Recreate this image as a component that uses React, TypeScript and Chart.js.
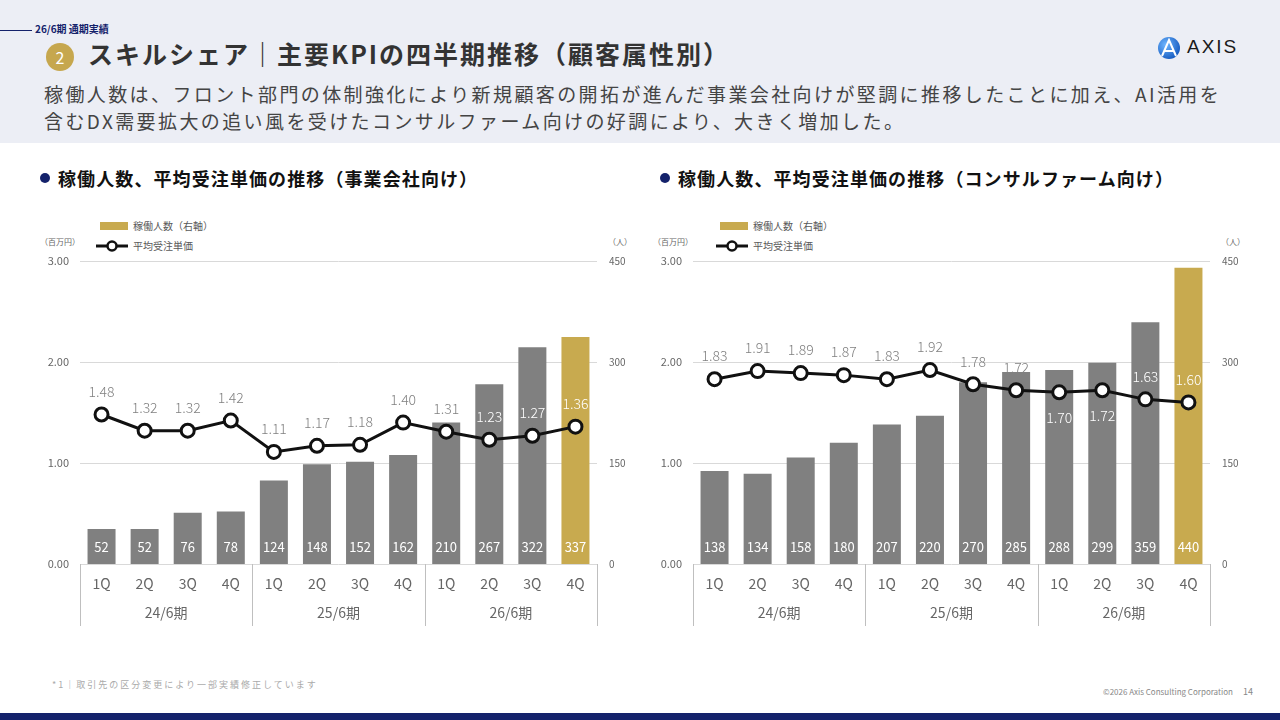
import Chart from "chart.js/auto";
import { useEffect, useRef } from "react";

const FONT = "'Noto Sans CJK JP', 'Noto Sans', sans-serif";
const GOLD = "#c8aa4f";
const GRAY = "#808080";
const NAVY = "#14226b";

// data
const quarters = ["1Q", "2Q", "3Q", "4Q", "1Q", "2Q", "3Q", "4Q", "1Q", "2Q", "3Q", "4Q"];
const fiscalYears = ["24/6期", "25/6期", "26/6期"];
const corpHeadcount = [52, 52, 76, 78, 124, 148, 152, 162, 210, 267, 322, 337];
const corpPrice = [1.48, 1.32, 1.32, 1.42, 1.11, 1.17, 1.18, 1.4, 1.31, 1.23, 1.27, 1.36];
const consultHeadcount = [138, 134, 158, 180, 207, 220, 270, 285, 288, 299, 359, 440];
const consultPrice = [1.83, 1.91, 1.89, 1.87, 1.83, 1.92, 1.78, 1.72, 1.7, 1.72, 1.63, 1.6];
const priceAxis = { min: 0, max: 3, step: 1 };
const headcountAxis = { min: 0, max: 450, step: 150 };

Chart.defaults.font.family = FONT;

const groupAxisPlugin = {
  id: "groupAxis",
  afterDraw(chart: any) {
    const { ctx, chartArea, scales } = chart;
    const xs = scales.x;
    const per = quarters.length / fiscalYears.length;
    const top = chartArea.bottom;
    const bottom = chartArea.bottom + 62;
    const edges: number[] = [chartArea.left];
    for (let g = 1; g < fiscalYears.length; g++) {
      edges.push((xs.getPixelForTick(g * per - 1) + xs.getPixelForTick(g * per)) / 2);
    }
    edges.push(chartArea.right);
    ctx.save();
    ctx.strokeStyle = "#bfbfbf";
    ctx.lineWidth = 1;
    edges.forEach((x) => {
      ctx.beginPath();
      ctx.moveTo(Math.round(x) + 0.5, top);
      ctx.lineTo(Math.round(x) + 0.5, bottom);
      ctx.stroke();
    });
    ctx.fillStyle = "#666";
    ctx.font = `14px ${FONT}`;
    ctx.textAlign = "center";
    ctx.textBaseline = "middle";
    fiscalYears.forEach((label, g) => {
      ctx.fillText(label, (edges[g] + edges[g + 1]) / 2, top + 49);
    });
    ctx.restore();
  },
};

const valueLabelPlugin = {
  id: "valueLabels",
  afterDatasetsDraw(chart: any, _args: any, opts: any) {
    const { ctx, chartArea } = chart;
    const barMeta = chart.getDatasetMeta(0);
    const lineMeta = chart.getDatasetMeta(1);
    const below: number[] = opts.below || [];
    ctx.save();
    ctx.textAlign = "center";
    ctx.textBaseline = "middle";
    ctx.font = `13px ${FONT}`;
    ctx.fillStyle = "#fff";
    barMeta.data.forEach((bar: any, i: number) => {
      ctx.fillText(String(chart.data.datasets[0].data[i]), bar.x, chartArea.bottom - 17);
    });
    ctx.font = `300 14px ${FONT}`;
    lineMeta.data.forEach((pt: any, i: number) => {
      const y = below.includes(i) ? pt.y + 25 : pt.y - 23;
      const inBar = y > barMeta.data[i].y + 2;
      ctx.fillStyle = inBar ? "#fff" : "#808080";
      ctx.fillText(Number(chart.data.datasets[1].data[i]).toFixed(2), pt.x, y);
    });
    ctx.restore();
  },
};

function ComboChart({ headcount, price, below }: { headcount: number[]; price: number[]; below: number[] }) {
  const canvasRef = useRef<HTMLCanvasElement>(null);

  useEffect(() => {
    if (!canvasRef.current) return;
    const chart = new Chart(canvasRef.current, {
      type: "bar",
      data: {
        labels: quarters,
        datasets: [
          {
            type: "bar",
            label: "稼働人数（右軸）",
            data: headcount,
            yAxisID: "y1",
            backgroundColor: headcount.map((_, i) => (i === headcount.length - 1 ? GOLD : GRAY)),
            barPercentage: 0.65,
            categoryPercentage: 1,
            order: 2,
          },
          {
            type: "line",
            label: "平均受注単価",
            data: price,
            yAxisID: "y",
            borderColor: "#111",
            borderWidth: 3,
            pointRadius: 6.5,
            pointBackgroundColor: "#fff",
            pointBorderColor: "#111",
            pointBorderWidth: 3,
            order: 1,
          },
        ] as any,
      },
      options: {
        animation: false,
        responsive: true,
        maintainAspectRatio: false,
        layout: { padding: { top: 0, bottom: 0, left: 0, right: 0 } },
        plugins: {
          legend: { display: false },
          tooltip: { enabled: false },
          valueLabels: { below },
        } as any,
        scales: {
          x: {
            grid: { display: false },
            border: { display: false },
            ticks: { color: "#666", font: { size: 14 }, padding: 3 },
            afterFit: (s: any) => {
              s.height = 62;
            },
          },
          y: {
            position: "left",
            min: priceAxis.min,
            max: priceAxis.max,
            grid: { color: "#d9d9d9", drawTicks: false },
            border: { display: false },
            ticks: {
              stepSize: priceAxis.step,
              color: "#666",
              font: { size: 11 },
              padding: 11,
              callback: (v: any) => Number(v).toFixed(2),
            },
            afterFit: (s: any) => {
              s.width = 50;
            },
          },
          y1: {
            position: "right",
            min: headcountAxis.min,
            max: headcountAxis.max,
            grid: { display: false, drawTicks: false },
            border: { display: false },
            ticks: { stepSize: headcountAxis.step, color: "#666", font: { size: 10 }, padding: 12 },
            afterFit: (s: any) => {
              s.width = 43;
            },
          },
        } as any,
      },
      plugins: [groupAxisPlugin, valueLabelPlugin],
    });

    return () => {
      chart.destroy();
    };
  }, [headcount, price, below]);

  return <canvas ref={canvasRef}></canvas>;
}

function Legend({ left }: { left: number }) {
  const text: React.CSSProperties = { position: "absolute", fontSize: 10, color: "#595959", lineHeight: "14px", whiteSpace: "nowrap" };
  return (
    <>
      <div style={{ position: "absolute", left, top: 222, width: 28, height: 8, background: GOLD }} />
      <div style={{ ...text, left: left + 33, top: 219 }}>稼働人数（右軸）</div>
      <svg style={{ position: "absolute", left: left - 4, top: 240 }} width="32" height="12">
        <line x1="0" y1="6" x2="32" y2="6" stroke="#111" strokeWidth="3" />
        <circle cx="16" cy="6" r="4.5" fill="#fff" stroke="#111" strokeWidth="2.5" />
      </svg>
      <div style={{ ...text, left: left + 33, top: 239 }}>平均受注単価</div>
    </>
  );
}

// plotLeft: x of the plot area's left edge; headLeft: x of the heading's dot
function Panel({ plotLeft, headLeft, legendLeft, title, headcount, price, below }: any) {
  const unit: React.CSSProperties = { position: "absolute", top: 236, fontSize: 8, color: "#666", whiteSpace: "nowrap", lineHeight: "12px" };
  return (
    <>
      <div style={{ position: "absolute", left: headLeft, top: 173, width: 10, height: 10, borderRadius: 5, background: NAVY }} />
      <div
        style={{
          position: "absolute",
          left: headLeft + 18,
          top: 165,
          fontSize: 18,
          fontWeight: 700,
          letterSpacing: 1.1,
          color: "#111",
          lineHeight: "26px",
          whiteSpace: "nowrap",
        }}
      >
        {title}
      </div>
      <Legend left={legendLeft} />
      <div style={{ ...unit, left: plotLeft - 40 }}>（百万円）</div>
      <div style={{ ...unit, left: plotLeft + 528 }}>（人）</div>
      <div style={{ position: "absolute", left: plotLeft - 50, top: 243, width: 610, height: 383 }}>
        <ComboChart headcount={headcount} price={price} below={below} />
      </div>
    </>
  );
}

export default function App() {
  return (
    <div
      style={{
        position: "fixed",
        left: 0,
        top: 0,
        width: 1280,
        height: 720,
        overflow: "hidden",
        background: "#fff",
        fontFamily: FONT,
      }}
    >
      <div style={{ position: "absolute", left: 0, top: 0, width: 1280, height: 143, background: "#eceef5" }} />
      <div style={{ position: "absolute", left: 0, top: 30, width: 32, height: 1, background: NAVY }} />
      <div style={{ position: "absolute", left: 35, top: 22, fontSize: 10, fontWeight: 700, color: NAVY, lineHeight: "14px" }}>
        26/6期 通期実績
      </div>
      <div
        style={{
          position: "absolute",
          left: 46,
          top: 43,
          width: 28,
          height: 28,
          borderRadius: 14,
          background: "#c6a74e",
          color: "#fff",
          fontSize: 16,
          lineHeight: "28px",
          textAlign: "center",
        }}
      >
        2
      </div>
      <div
        style={{
          position: "absolute",
          left: 88,
          top: 36,
          fontSize: 25,
          fontWeight: 700,
          color: "#333",
          letterSpacing: 2,
          lineHeight: "34px",
          whiteSpace: "nowrap",
        }}
      >
        スキルシェア｜主要KPIの四半期推移（顧客属性別）
      </div>
      <div
        style={{
          position: "absolute",
          left: 44,
          top: 80,
          fontSize: 19,
          color: "#444",
          letterSpacing: 2.4,
          lineHeight: "27px",
          whiteSpace: "nowrap",
        }}
      >
        稼働人数は、フロント部門の体制強化により新規顧客の開拓が進んだ事業会社向けが堅調に推移したことに加え、AI活用を
        <br />
        含むDX需要拡大の追い風を受けたコンサルファーム向けの好調により、大きく増加した。
      </div>

      {/* logo */}
      <svg style={{ position: "absolute", left: 1157, top: 36 }} width="24" height="24" viewBox="0 0 24 24">
        <defs>
          <radialGradient id="lg" cx="0.35" cy="0.35" r="0.8">
            <stop offset="0" stopColor="#6fb6ff" />
            <stop offset="1" stopColor="#0a4fb8" />
          </radialGradient>
        </defs>
        <circle cx="12" cy="12" r="11" fill="url(#lg)" />
        <path d="M5 20 L12 4 L19 20 M8 15 L17 15" stroke="#fff" strokeWidth="2" fill="none" />
      </svg>
      <div
        style={{
          position: "absolute",
          left: 1187,
          top: 35,
          fontSize: 19,
          letterSpacing: 2,
          color: "#1a1a1a",
          lineHeight: "24px",
          fontFamily: "'Liberation Sans', sans-serif",
        }}
      >
        AXIS
      </div>

      <Panel plotLeft={80} headLeft={40} legendLeft={100} title="稼働人数、平均受注単価の推移（事業会社向け）" headcount={corpHeadcount} price={corpPrice} below={[]} />
      <Panel plotLeft={693} headLeft={660} legendLeft={720} title="稼働人数、平均受注単価の推移（コンサルファーム向け）" headcount={consultHeadcount} price={consultPrice} below={[8, 9]} />

      <div style={{ position: "absolute", left: 52, top: 678, fontSize: 9, color: "#aaa", letterSpacing: 2, whiteSpace: "nowrap", lineHeight: "14px" }}>
        *1｜取引先の区分変更により一部実績修正しています
      </div>
      <div style={{ position: "absolute", left: 1103, top: 686, fontSize: 8, color: "#888", whiteSpace: "nowrap", lineHeight: "12px" }}>
        ©2026 Axis Consulting Corporation
      </div>
      <div style={{ position: "absolute", left: 1243, top: 685, fontSize: 9, color: "#888", lineHeight: "14px" }}>14</div>
      <div style={{ position: "absolute", left: 0, top: 713, width: 1280, height: 7, background: NAVY }} />
    </div>
  );
}
